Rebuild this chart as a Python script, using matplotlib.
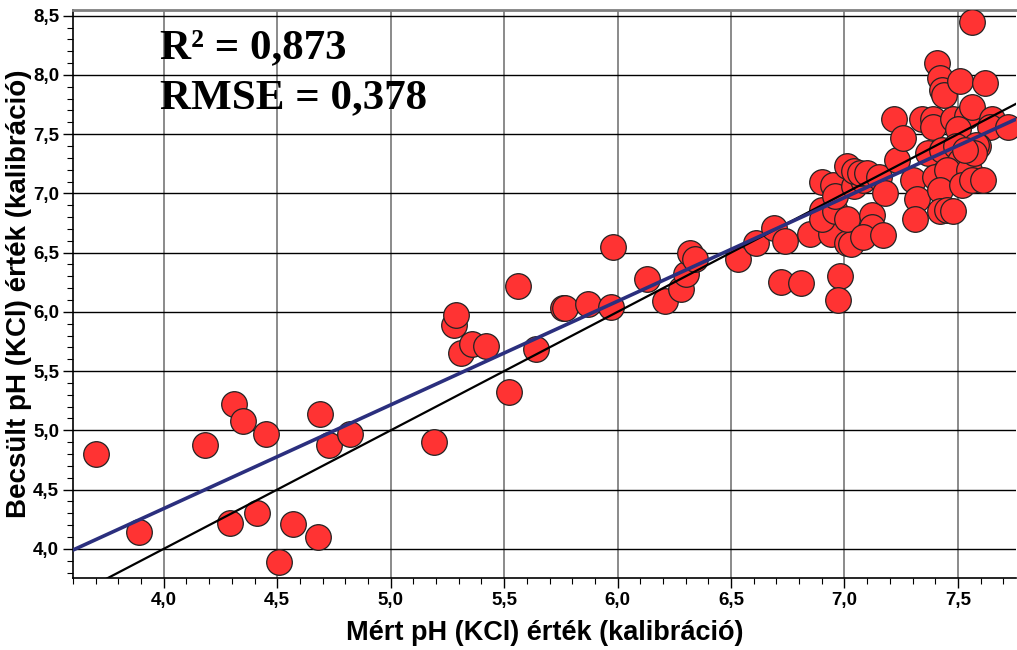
import numpy as np
import matplotlib.pyplot as plt
from matplotlib.ticker import MultipleLocator, FuncFormatter

# measured / estimated pH (KCl), calibration set
mert = [3.70, 3.89, 4.18, 4.31, 4.35, 4.45, 4.29, 4.41, 4.51, 4.57,
        4.68, 4.69, 4.73, 4.82, 5.19, 5.28, 5.29, 5.31, 5.36, 5.42,
        5.52, 5.56, 5.64, 5.76, 5.77, 5.87, 5.97, 5.98, 6.13, 6.21,
        6.28, 6.30, 6.32, 6.34, 6.53, 6.61, 6.69, 6.74, 6.72, 6.81,
        6.85, 6.94, 7.01, 7.03, 6.98, 6.97, 6.90, 6.90, 6.96, 7.01,
        7.12, 7.12, 7.08, 7.17, 6.90, 6.95, 6.96, 7.04, 7.08, 7.01,
        7.04, 7.07, 7.10, 7.15, 7.18, 7.23, 7.30, 7.32, 7.31, 7.22,
        7.26, 7.34, 7.39, 7.39, 7.48, 7.54, 7.56, 7.65, 7.64, 7.72,
        7.50, 7.41, 7.42, 7.43, 7.44, 7.51, 7.62, 7.56, 7.37, 7.43,
        7.49, 7.59, 7.54, 7.51, 7.40, 7.45, 7.55, 7.42, 7.52, 7.56,
        7.61, 7.42, 7.45, 7.48, 7.58, 7.57, 7.53]
becsult = [4.80, 4.14, 4.88, 5.22, 5.08, 4.97, 4.22, 4.30, 3.89, 4.21,
           4.10, 5.14, 4.88, 4.97, 4.90, 5.89, 5.97, 5.65, 5.73, 5.71,
           5.32, 6.22, 5.69, 6.03, 6.03, 6.07, 6.04, 6.55, 6.28, 6.09,
           6.19, 6.32, 6.50, 6.45, 6.45, 6.58, 6.71, 6.60, 6.25, 6.24,
           6.66, 6.66, 6.58, 6.57, 6.30, 6.10, 6.86, 6.78, 6.85, 6.78,
           6.82, 6.72, 6.63, 6.65, 7.10, 7.07, 6.98, 7.06, 7.11, 7.23,
           7.19, 7.17, 7.17, 7.14, 7.00, 7.28, 7.11, 6.95, 6.78, 7.63,
           7.47, 7.63, 7.63, 7.56, 7.63, 7.65, 7.73, 7.63, 7.56, 7.56,
           7.54, 8.10, 7.97, 7.87, 7.83, 7.95, 7.93, 8.45, 7.34, 7.37,
           7.40, 7.40, 7.31, 7.27, 7.14, 7.20, 7.20, 7.03, 7.07, 7.11,
           7.11, 6.85, 6.86, 6.85, 7.41, 7.34, 7.37]

# fitted line
meredekseg = 0.875
metszet = 0.84

xmin, xmax = 3.6, 7.755
ymin, ymax = 3.755, 8.55

fig = plt.figure(figsize=(10.17, 6.5), dpi=100)
ax = fig.add_axes([0.0718, 0.111, 0.927, 0.874])

ax.scatter(mert, becsult, s=340, c='#ff3333', edgecolors='#222222',
           linewidths=0.9, zorder=3)

xx = np.array([xmin, xmax])
ax.plot(xx, xx, color='black', lw=1.6, zorder=4)
ax.plot(xx, metszet + meredekseg * xx, color='#2b2f7e', lw=2.6, zorder=5)

ax.set_xlim(xmin, xmax)
ax.set_ylim(ymin, ymax)

ax.xaxis.set_major_locator(MultipleLocator(0.5))
ax.xaxis.set_minor_locator(MultipleLocator(0.1))
ax.yaxis.set_major_locator(MultipleLocator(0.5))
ax.yaxis.set_minor_locator(MultipleLocator(0.1))
fmt = FuncFormatter(lambda v, p: f"{v:.1f}".replace('.', ','))
ax.xaxis.set_major_formatter(fmt)
ax.yaxis.set_major_formatter(fmt)

ax.grid(axis='x', which='major', color='#8a8a8a', lw=1.4)
ax.grid(axis='y', which='major', color='black', lw=1.0)
ax.set_axisbelow(True)

ax.tick_params(which='major', length=7, width=1, direction='out', pad=3)
ax.tick_params(which='minor', length=4, width=0.8, direction='out')
for lab in ax.get_xticklabels() + ax.get_yticklabels():
    lab.set_fontfamily('Liberation Sans')
    lab.set_fontweight('bold')
    lab.set_fontsize(13.5)

ax.spines['right'].set_visible(False)
ax.spines['top'].set_color('#808080')
ax.spines['top'].set_linewidth(2)
ax.spines['left'].set_linewidth(1.2)
ax.spines['bottom'].set_linewidth(1.2)

ax.set_xlabel('Mért pH (KCl) érték (kalibráció)', fontfamily='Liberation Sans',
              fontweight='bold', fontsize=19.5)
ax.set_ylabel('Becsült pH (KCl) érték (kalibráció)', fontfamily='Liberation Sans',
              fontweight='bold', fontsize=20)
ax.xaxis.set_label_coords(0.5, -0.075)
ax.yaxis.set_label_coords(-0.043, 0.5)

ax.text(0.092, 0.915, 'R² = 0,873', transform=ax.transAxes,
        fontfamily='Liberation Serif', fontweight='bold', fontsize=31)
ax.text(0.092, 0.826, 'RMSE = 0,378', transform=ax.transAxes,
        fontfamily='Liberation Serif', fontweight='bold', fontsize=31)

fig.savefig('out.png', dpi=100)
